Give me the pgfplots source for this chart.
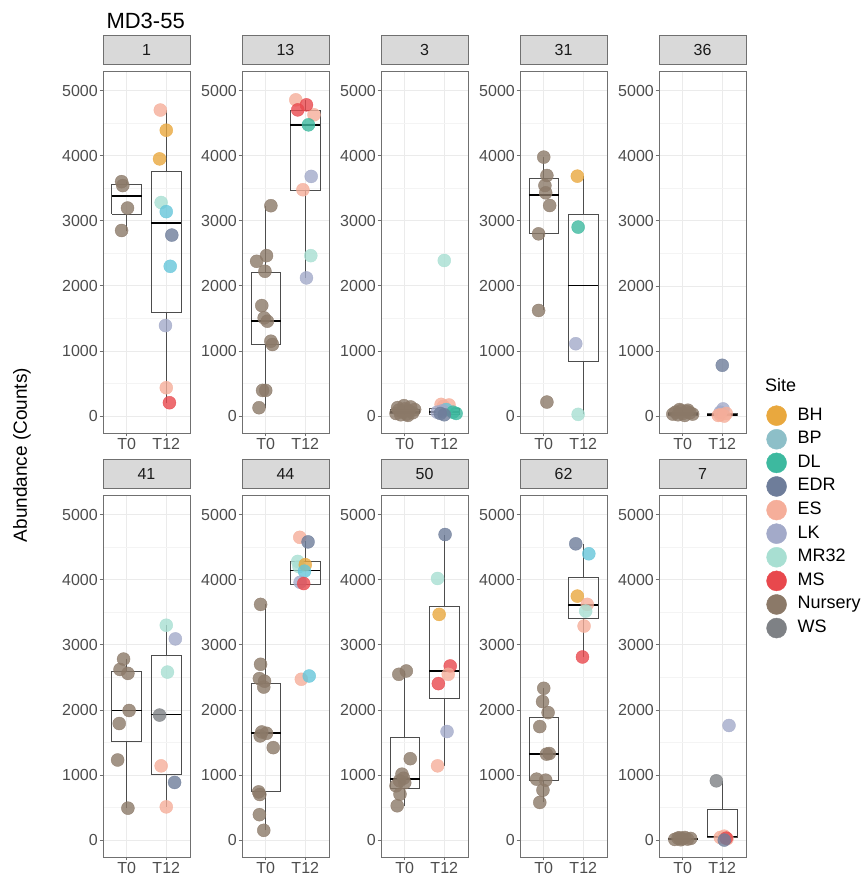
\documentclass[border=0pt]{standalone}
\usepackage{fontspec}
\setmainfont{Liberation Sans}
\usepackage{pgfplots}
\pgfplotsset{compat=1.18}

\definecolor{BH}{HTML}{E9A83E}
\definecolor{BP}{HTML}{8DBFC8}
\definecolor{BPpt}{HTML}{66C6DA}
\definecolor{DL}{HTML}{3DB99F}
\definecolor{EDR}{HTML}{6E7D9A}
\definecolor{ES}{HTML}{F5AE9A}
\definecolor{LK}{HTML}{A3AAC9}
\definecolor{MR32}{HTML}{A8DFD2}
\definecolor{MS}{HTML}{E8484D}
\definecolor{Nursery}{HTML}{8B7968}
\definecolor{WS}{HTML}{7E8185}
\definecolor{gridmaj}{HTML}{EBEBEB}
\definecolor{gridmin}{HTML}{F4F4F4}
\definecolor{border}{HTML}{707070}
\definecolor{stripfill}{HTML}{D9D9D9}
\definecolor{stript}{HTML}{1A1A1A}
\definecolor{labc}{HTML}{4D4D4D}
\definecolor{boxc}{HTML}{4D4D4D}

% generic box: L C R lw lq med uq uw
\newcommand{\bxgen}[8]{%
  \addplot[draw=boxc, line width=0.8pt, forget plot] coordinates {(#2,#4) (#2,#5)};
  \addplot[draw=boxc, line width=0.8pt, forget plot] coordinates {(#2,#7) (#2,#8)};
  \addplot[draw=boxc, line width=0.8pt, forget plot] coordinates {(#1,#5) (#3,#5) (#3,#7) (#1,#7) (#1,#5)};
  \addplot[draw=black, line width=1.6pt, forget plot] coordinates {(#1,#6) (#3,#6)};
}
\newcommand{\bxone}[5]{\bxgen{0.625}{1}{1.375}{#1}{#2}{#3}{#4}{#5}}
\newcommand{\bxtwo}[5]{\bxgen{1.625}{2}{2.375}{#1}{#2}{#3}{#4}{#5}}

\pgfplotsset{
  pt/.style={only marks, mark=*, mark size=6.5pt, forget plot,
    mark options={draw=#1, fill=#1, opacity=0.8}},
  lg/.style={only marks, mark=*, mark size=10pt, mark options={draw=#1, fill=#1}},
  facet/.style={
    scale only axis, width=87pt, height=362pt, anchor=south west,
    xmin=0.4, xmax=2.6, ymin=-260, ymax=5300,
    xtick={1,2}, xticklabels={T0,T12},
    ytick={0,1000,2000,3000,4000,5000},
    minor ytick={500,1500,2500,3500,4500},
    grid=both,
    major grid style={draw=gridmaj, line width=0.7pt},
    minor grid style={draw=gridmin, line width=0.5pt},
    axis line style={draw=border, line width=0.8pt},
    tick align=outside, tick pos=left,
    major tick length=3.5pt, minor tick length=0pt,
    tick style={draw=border, line width=0.7pt},
    tick label style={font=\fontsize{16}{16}\selectfont, text=labc},
    yticklabel style={inner sep=1.5pt},
    xticklabel style={inner sep=2pt},
    /pgf/number format/1000 sep={},
    /pgf/number format/assume math mode=true,
    title style={at={(0.5,1)}, anchor=south, draw=border, fill=stripfill,
      line width=0.8pt, minimum width=87pt, minimum height=29pt, inner sep=0pt,
      font=\fontsize{16}{16}\selectfont, text=stript},
  }
}

\begin{document}
\begin{tikzpicture}
\useasboundingbox (0,0) rectangle (866pt,881pt);
\node[anchor=west, font=\fontsize{22}{22}\selectfont] at (103pt,860pt) {MD3-55};
\node[rotate=90, font=\fontsize{19}{19}\selectfont] at (22pt,426pt) {Abundance (Counts)};

% ---------- Panel 1
\begin{axis}[facet, at={(103pt,448pt)}, title={1}]
\bxone{2850}{3105}{3380}{3565}{3600}
\bxtwo{205}{1595}{2965}{3760}{4700}
\addplot[pt=Nursery] coordinates {(0.87,3600) (0.90,3540) (1.02,3195) (0.87,2850)};
\addplot[pt=ES] coordinates {(1.85,4700) (2.0,435)};
\addplot[pt=BH] coordinates {(2.0,4390) (1.83,3950)};
\addplot[pt=MR32] coordinates {(1.87,3280)};
\addplot[pt=BPpt] coordinates {(2.0,3140) (2.10,2300)};
\addplot[pt=EDR] coordinates {(2.14,2780)};
\addplot[pt=LK] coordinates {(1.98,1390)};
\addplot[pt=MS] coordinates {(2.08,205)};
\end{axis}

% ---------- Panel 13
\begin{axis}[facet, at={(242pt,448pt)}, title={13}]
\bxone{128}{1099}{1457}{2214}{3231}
\bxtwo{2122}{3466}{4473}{4688}{4857}
\addplot[pt=Nursery] coordinates {(1.13,3231) (1.02,2464) (0.77,2377) (0.98,2224) (0.90,1697) (0.96,1508) (1.04,1457) (1.13,1150) (1.17,1099) (0.92,394) (1.0,394) (0.83,128)};
\addplot[pt=ES] coordinates {(1.76,4857) (2.22,4627) (1.94,3476)};
\addplot[pt=MS] coordinates {(1.81,4703) (2.03,4780)};
\addplot[pt=DL] coordinates {(2.08,4473)};
\addplot[pt=LK] coordinates {(2.15,3681) (2.03,2122)};
\addplot[pt=MR32] coordinates {(2.14,2464)};
\end{axis}

% ---------- Panel 3
\begin{axis}[facet, at={(381pt,448pt)}, title={3}]
\bxone{10}{35}{60}{105}{160}
\bxtwo{0}{25}{65}{120}{180}
\addplot[pt=Nursery] coordinates {(0.78,40) (0.85,90) (0.9,20) (0.95,60) (1.0,110) (1.05,30) (1.1,80) (1.15,140) (1.2,50) (1.25,100) (0.82,130) (1.08,10) (0.98,160)};
\addplot[pt=ES] coordinates {(1.92,180) (2.12,170) (1.98,150)};
\addplot[pt=BPpt] coordinates {(2.05,100)};
\addplot[pt=LK] coordinates {(1.95,80) (1.82,60)};
\addplot[pt=DL] coordinates {(2.22,60) (2.3,40)};
\addplot[pt=EDR] coordinates {(2.0,20) (1.9,40)};
\addplot[pt=MR32] coordinates {(2.0,2390)};
\end{axis}

% ---------- Panel 31
\begin{axis}[facet, at={(520pt,448pt)}, title={31}]
\bxone{1622}{2800}{3398}{3654}{3977}
\bxtwo{26}{839}{2006}{3096}{3685}
\addplot[pt=Nursery] coordinates {(1.0,3977) (1.08,3695) (1.03,3541) (1.05,3429) (1.15,3234) (0.87,2799) (0.87,1622) (1.08,215)};
\addplot[pt=BH] coordinates {(1.85,3685)};
\addplot[pt=DL] coordinates {(1.87,2902)};
\addplot[pt=LK] coordinates {(1.81,1111)};
\addplot[pt=MR32] coordinates {(1.87,26)};
\end{axis}

% ---------- Panel 36 (with legend)
\begin{axis}[facet, at={(659pt,448pt)}, title={36},
  legend cell align=left,
  legend style={at={(axis description cs:1.20,0.144)}, anchor=north west,
    draw=none, fill=none, font=\fontsize{18}{18}\selectfont, row sep=3.6pt,
    nodes={inner sep=1pt, text height=13pt, text depth=4pt},
    /tikz/every odd column/.append style={column sep=10pt}}]
\addlegendimage{empty legend}\addlegendentry{\hspace{-33pt}\raisebox{6pt}{Site}}
\addlegendimage{lg=BH}\addlegendentry{BH}
\addlegendimage{lg=BP}\addlegendentry{BP}
\addlegendimage{lg=DL}\addlegendentry{DL}
\addlegendimage{lg=EDR}\addlegendentry{EDR}
\addlegendimage{lg=ES}\addlegendentry{ES}
\addlegendimage{lg=LK}\addlegendentry{LK}
\addlegendimage{lg=MR32}\addlegendentry{MR32}
\addlegendimage{lg=MS}\addlegendentry{MS}
\addlegendimage{lg=Nursery}\addlegendentry{Nursery}
\addlegendimage{lg=WS}\addlegendentry{WS}
\bxone{0}{15}{30}{60}{100}
\bxtwo{0}{5}{20}{45}{110}
\addplot[pt=Nursery] coordinates {(0.75,30) (0.82,60) (0.88,20) (0.95,80) (1.0,40) (1.05,10) (1.1,70) (1.18,50) (1.25,30) (0.92,100) (1.13,90)};
\addplot[pt=EDR] coordinates {(2.0,780)};
\addplot[pt=LK] coordinates {(2.02,110) (1.95,60)};
\addplot[pt=ES] coordinates {(1.95,20) (2.05,0) (2.1,40) (1.9,10)};
\end{axis}

% ---------- Panel 41
\begin{axis}[facet, at={(103pt,24pt)}, title={41}]
\bxone{490}{1510}{1990}{2590}{2780}
\bxtwo{510}{1012}{1930}{2830}{3300}
\addplot[pt=Nursery] coordinates {(0.92,2780) (0.83,2620) (1.03,2560) (1.06,1990) (0.81,1790) (0.77,1230) (1.03,490)};
\addplot[pt=MR32] coordinates {(2.0,3300) (2.03,2580)};
\addplot[pt=LK] coordinates {(2.23,3090)};
\addplot[pt=WS] coordinates {(1.83,1920)};
\addplot[pt=ES] coordinates {(1.87,1140) (2.0,510)};
\addplot[pt=EDR] coordinates {(2.21,885)};
\end{axis}

% ---------- Panel 44
\begin{axis}[facet, at={(242pt,24pt)}, title={44}]
\bxone{150}{740}{1640}{2400}{3620}
\bxtwo{3926}{3926}{4141}{4284}{4590}
\addplot[pt=Nursery] coordinates {(0.87,3620) (0.87,2700) (0.84,2480) (0.97,2440) (0.95,2350) (0.9,1660) (1.02,1640) (0.86,1600) (1.19,1420) (0.82,740) (0.85,700) (0.84,390) (0.95,150)};
\addplot[pt=ES] coordinates {(1.86,4650) (1.9,2470)};
\addplot[pt=EDR] coordinates {(2.07,4580)};
\addplot[pt=MR32] coordinates {(1.81,4280) (1.84,4200)};
\addplot[pt=BH] coordinates {(2.0,4230)};
\addplot[pt=BPpt] coordinates {(1.98,4130) (2.1,2520)};
\addplot[pt=LK] coordinates {(1.87,3960)};
\addplot[pt=MS] coordinates {(1.96,3940)};
\end{axis}

% ---------- Panel 50
\begin{axis}[facet, at={(381pt,24pt)}, title={50}]
\bxone{527}{790}{940}{1570}{2597}
\bxtwo{1140}{2178}{2597}{3594}{4693}
\addplot[pt=Nursery] coordinates {(0.85,2546) (1.04,2597) (1.14,1250) (0.93,1012) (0.87,910) (0.97,950) (0.78,833) (0.88,705) (0.81,527) (1.0,880)};
\addplot[pt=EDR] coordinates {(2.02,4693)};
\addplot[pt=MR32] coordinates {(1.83,4018)};
\addplot[pt=BH] coordinates {(1.87,3466)};
\addplot[pt=MS] coordinates {(2.15,2674) (1.85,2403)};
\addplot[pt=ES] coordinates {(2.1,2546) (1.83,1140)};
\addplot[pt=LK] coordinates {(2.07,1667)};
\end{axis}

% ---------- Panel 62
\begin{axis}[facet, at={(520pt,24pt)}, title={62}]
\bxone{578}{924}{1325}{1890}{2331}
\bxtwo{2812}{3405}{3609}{4039}{4550}
\addplot[pt=Nursery] coordinates {(1.0,2331) (0.97,2127) (1.11,1958) (0.9,1743) (1.14,1329) (1.07,1320) (0.82,936) (1.05,920) (0.98,767) (0.9,578)};
\addplot[pt=EDR] coordinates {(1.81,4550)};
\addplot[pt=BPpt] coordinates {(2.14,4397)};
\addplot[pt=BH] coordinates {(1.85,3747)};
\addplot[pt=ES] coordinates {(2.1,3620) (2.02,3287)};
\addplot[pt=MR32] coordinates {(2.06,3517)};
\addplot[pt=MS] coordinates {(1.98,2812)};
\end{axis}

% ---------- Panel 7
\begin{axis}[facet, at={(659pt,24pt)}, title={7}]
\bxone{0}{5}{15}{30}{40}
\bxtwo{0}{45}{55}{475}{910}
\addplot[pt=Nursery] coordinates {(0.8,10) (0.88,30) (0.95,5) (1.0,20) (1.05,40) (1.12,15) (1.2,25) (0.92,35)};
\addplot[pt=LK] coordinates {(2.17,1760)};
\addplot[pt=WS] coordinates {(1.85,910)};
\addplot[pt=ES] coordinates {(2.05,60) (1.95,40) (2.12,20)};
\addplot[pt=MS] coordinates {(2.1,30)};
\addplot[pt=EDR] coordinates {(2.05,0)};
\end{axis}
\end{tikzpicture}
\end{document}
